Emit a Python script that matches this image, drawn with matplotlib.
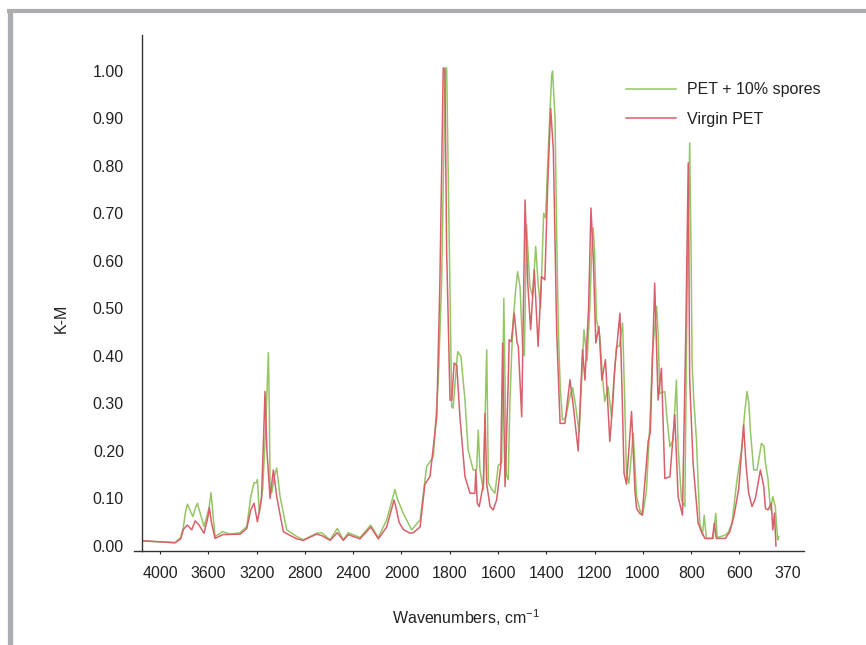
import numpy as np
import matplotlib
matplotlib.use('Agg')
import matplotlib.pyplot as plt
from matplotlib.lines import Line2D

plt.rcParams['font.family'] = ['Liberation Sans', 'DejaVu Sans']

# wavenumbers (cm-1) and K-M values
wn_spores = [4150, 3876, 3830, 3807, 3790, 3774, 3760, 3729, 3705, 3691, 3675, 3636,
             3595, 3578, 3560, 3545, 3481, 3420, 3338,
             3282, 3249, 3222, 3205, 3194, 3178, 3150, 3125, 3110, 3103, 3096, 3089, 3075, 3050,
             3034, 3006, 2951, 2868, 2813, 2703, 2661, 2592, 2532, 2482, 2441, 2344,
             2255, 2192, 2123, 2075, 2054, 2035, 1993, 1958, 1923, 1896, 1868, 1848, 1834, 1824, 1820,
             1813, 1806, 1796, 1792, 1786, 1774, 1767, 1754, 1737, 1724, 1703, 1689,
             1682, 1675, 1661, 1647, 1640, 1627, 1613, 1599, 1585, 1576, 1566, 1558,
             1551, 1544, 1537, 1527, 1519, 1509, 1498, 1491, 1482, 1468, 1457, 1444,
             1434, 1424, 1411, 1403, 1392, 1378, 1374, 1364, 1357, 1350, 1342, 1333,
             1320, 1300, 1291, 1280, 1264, 1244, 1231, 1220, 1212, 1206, 1200, 1192, 1178, 1168,
             1158, 1144, 1130, 1120, 1109, 1098, 1084, 1075, 1068, 1058, 1040, 1026,
             1012, 1001, 985, 971, 960, 943, 937, 930, 909, 902, 888, 875, 861, 854, 840,
             826, 817, 806, 800, 796, 789, 778, 764, 753, 746, 737, 709, 698, 692,
             658, 645, 631, 610, 588, 575, 564, 555, 548, 532, 516, 495, 483, 476, 464, 452,
             441, 429, 418, 413]
km_spores = [0.011, 0.007, 0.018, 0.040, 0.072, 0.088, 0.080, 0.062, 0.082, 0.090, 0.075, 0.041,
             0.080, 0.112, 0.060, 0.020, 0.030, 0.025, 0.028,
             0.041, 0.104, 0.133, 0.133, 0.140, 0.069, 0.120, 0.250, 0.360, 0.407, 0.300, 0.125, 0.112, 0.150,
             0.164, 0.104, 0.034, 0.020, 0.013, 0.027, 0.028, 0.013, 0.037, 0.013, 0.028, 0.018,
             0.044, 0.018, 0.055, 0.100, 0.119, 0.100, 0.069, 0.034, 0.055, 0.167, 0.188, 0.343, 0.553, 0.850, 1.006,
             1.006, 0.764, 0.413, 0.293, 0.290, 0.370, 0.409, 0.399, 0.307, 0.202, 0.160, 0.160,
             0.244, 0.160, 0.118, 0.413, 0.133, 0.120, 0.111, 0.170, 0.175, 0.521, 0.150, 0.140,
             0.300, 0.400, 0.476, 0.539, 0.577, 0.546, 0.413, 0.400, 0.676, 0.546, 0.525, 0.630,
             0.553, 0.500, 0.700, 0.690, 0.834, 0.990, 0.999, 0.900, 0.650, 0.450, 0.330, 0.265,
             0.270, 0.320, 0.333, 0.300, 0.240, 0.455, 0.390, 0.500, 0.620, 0.669, 0.620, 0.476, 0.440, 0.360,
             0.304, 0.335, 0.272, 0.350, 0.420, 0.420, 0.469, 0.300, 0.153, 0.132, 0.237, 0.104,
             0.075, 0.065, 0.118, 0.258, 0.409, 0.504, 0.450, 0.321, 0.325, 0.279, 0.209, 0.223, 0.349,
             0.209, 0.097, 0.083, 0.525, 0.848, 0.600, 0.385, 0.307, 0.223, 0.048, 0.023, 0.065,
             0.016, 0.016, 0.069, 0.018, 0.023, 0.030, 0.048, 0.139, 0.209, 0.280, 0.325, 0.300, 0.244, 0.160,
             0.160, 0.216, 0.210, 0.174, 0.142, 0.076, 0.104, 0.083, 0.013, 0.020]

wn_virgin = [4150, 3876, 3830, 3807, 3774, 3738, 3710, 3680, 3636, 3605, 3592, 3575, 3545, 3481, 3338, 3282,
             3249, 3222, 3194, 3160, 3140, 3131, 3115, 3089, 3062, 3034, 2979, 2868,
             2813, 2703, 2661, 2592, 2532, 2482, 2441, 2344, 2255, 2192, 2123, 2075, 2062,
             2045, 2020, 1993, 1965, 1951, 1923, 1903, 1882, 1854, 1841, 1832, 1827, 1820, 1813,
             1799, 1792, 1782, 1771, 1758, 1737, 1716, 1696, 1692, 1686, 1678, 1661,
             1654, 1647, 1633, 1620, 1606, 1599, 1589, 1581, 1571, 1558, 1554, 1545,
             1533, 1521, 1516, 1502, 1488, 1477, 1465, 1450, 1434, 1420, 1406, 1395,
             1382, 1371, 1357, 1343, 1323, 1302, 1288, 1268, 1250, 1240, 1225, 1215,
             1205, 1195, 1182, 1170, 1155, 1137, 1125, 1116, 1095, 1085, 1078, 1068,
             1047, 1033, 1026, 1012, 1003, 978, 969, 960, 951, 937, 923, 909, 888, 868, 854,
             836, 822, 812, 806, 792, 771, 757, 743, 712, 704, 696, 658, 640, 623, 603,
             580, 569, 556, 540, 524, 500, 484, 476, 464, 448, 441, 433, 426]
km_virgin = [0.011, 0.007, 0.015, 0.035, 0.044, 0.034, 0.053, 0.045, 0.027, 0.060, 0.081, 0.050, 0.016, 0.024, 0.025, 0.037,
             0.076, 0.090, 0.051, 0.100, 0.250, 0.325, 0.200, 0.100, 0.160, 0.104, 0.030, 0.015,
             0.012, 0.025, 0.022, 0.012, 0.028, 0.012, 0.024, 0.015, 0.040, 0.015, 0.040, 0.085, 0.097,
             0.080, 0.050, 0.035, 0.027, 0.028, 0.040, 0.130, 0.146, 0.272, 0.553, 0.850, 1.006, 1.000, 0.623,
             0.307, 0.307, 0.385, 0.380, 0.272, 0.146, 0.111, 0.111, 0.160, 0.090, 0.083, 0.130,
             0.279, 0.130, 0.083, 0.076, 0.097, 0.125, 0.167, 0.427, 0.125, 0.343, 0.434, 0.430,
             0.490, 0.427, 0.420, 0.272, 0.728, 0.553, 0.455, 0.581, 0.420, 0.567, 0.560, 0.750,
             0.921, 0.834, 0.450, 0.258, 0.258, 0.350, 0.293, 0.200, 0.413, 0.349, 0.500, 0.711,
             0.600, 0.427, 0.462, 0.349, 0.392, 0.220, 0.300, 0.377, 0.490, 0.300, 0.153, 0.130,
             0.283, 0.118, 0.079, 0.068, 0.065, 0.220, 0.240, 0.400, 0.553, 0.307, 0.374, 0.142, 0.146,
             0.276, 0.104, 0.065, 0.455, 0.806, 0.349, 0.174, 0.048, 0.030, 0.016, 0.016, 0.048,
             0.016, 0.016, 0.030, 0.062, 0.120, 0.255, 0.174, 0.111, 0.083, 0.100, 0.160, 0.125, 0.079,
             0.076, 0.090, 0.034, 0.069, 0.000]

xticks = [4000, 3600, 3200, 2800, 2400, 2000, 1800, 1600, 1400, 1200, 1000, 800, 600, 370]
yticks = [0.0, 0.1, 0.2, 0.3, 0.4, 0.5, 0.6, 0.7, 0.8, 0.9, 1.0]


# axis is compressed above 2000 cm-1: 400 per tick there, 200 per tick below
def fwd(w):
    w = np.asarray(w, dtype=float)
    return np.where(w >= 2000, (w - 4000) / 400,
                    np.where(w >= 600, -5 + (w - 2000) / 200, -12 + (w - 600) / 230))


def inv(v):
    v = np.asarray(v, dtype=float)
    return np.where(v >= -5, 4000 + 400 * v,
                    np.where(v >= -12, 2000 + 200 * (v + 5), 600 + 230 * (v + 12)))


green = '#95c665'
red = '#d7606a'
txt = '#222222'
fs = 11.5

fig = plt.figure(figsize=(8.66, 6.45), dpi=100)
ax = fig.add_axes([0.164, 0.1457, 0.764, 0.8])

ax.plot(wn_spores, km_spores, color=green, lw=1.1, label='PET + 10% spores')
ax.plot(wn_virgin, km_virgin, color=red, lw=1.1, label='Virgin PET')

ax.set_xscale('function', functions=(fwd, inv))
ax.set_xlim(4150, 294)
ax.set_ylim(-0.0105, 1.075)

ax.set_xticks(xticks)
ax.set_xticklabels([str(t) for t in xticks])
ax.set_yticks(yticks)
ax.set_yticklabels(['%.2f' % t for t in yticks])
ax.xaxis.get_major_ticks()[-1].tick1line.set_visible(False)
ax.minorticks_off()

ax.tick_params(axis='x', length=2.5, width=0.8, pad=8, labelsize=fs, colors=txt)
ax.tick_params(axis='y', length=0, pad=13, labelsize=fs, colors=txt)

for s in ['top', 'right']:
    ax.spines[s].set_visible(False)
for s in ['left', 'bottom']:
    ax.spines[s].set_color('#333333')
    ax.spines[s].set_linewidth(1.0)

ax.set_xlabel('Wavenumbers, cm$^{\\mathregular{-1}}$', fontsize=fs, color=txt)
ax.xaxis.set_label_coords(0.489, -0.110)
ax.set_ylabel('K-M', fontsize=fs, color=txt)
ax.yaxis.set_label_coords(-0.110, 0.4516)

ax.legend(loc='upper left', bbox_to_anchor=(0.731, 0.908), frameon=False,
          fontsize=fs, handlelength=3.15, handletextpad=0.68, labelspacing=0.9,
          borderpad=0, borderaxespad=0, labelcolor=txt)

# bottom axis line runs a little past the y axis
fig.add_artist(Line2D([134 / 866, 142 / 866], [1 - 551 / 645, 1 - 551 / 645],
                      color='#333333', lw=1.0))

# grey frame along top and left edges
fig.add_artist(Line2D([6.7 / 866, 1.0], [1 - 11.3 / 645, 1 - 11.3 / 645],
                      color='#abadb0', lw=3.0, solid_capstyle='butt'))
fig.add_artist(Line2D([9.5 / 866, 9.5 / 866], [1 - 9.3 / 645, 0.0],
                      color='#abadb0', lw=3.8, solid_capstyle='butt'))

fig.savefig('out.png', dpi=100)
